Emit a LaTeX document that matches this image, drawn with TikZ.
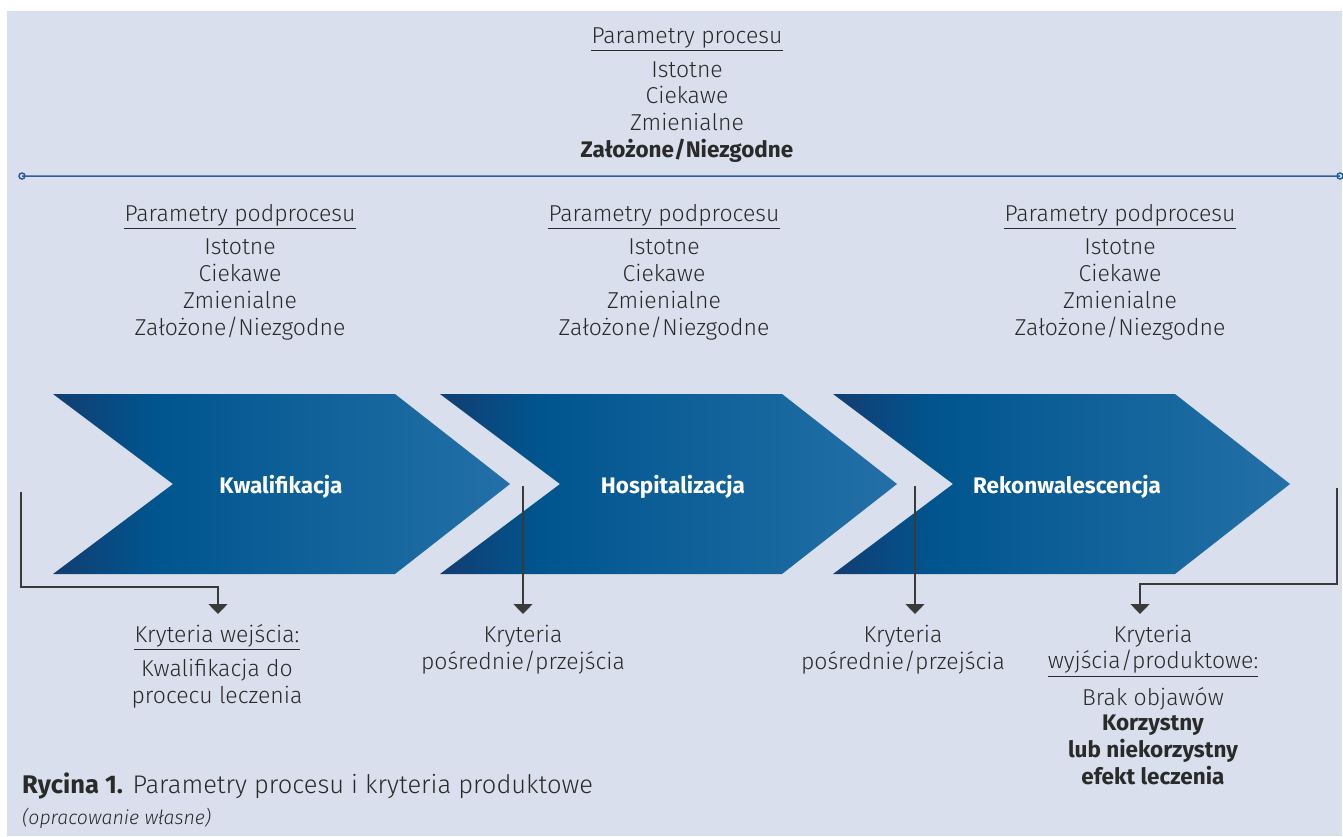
\documentclass[tikz,border=0pt]{standalone}
\usepackage{fontspec}
\setmainfont{Fira Sans Light}[BoldFont={Fira Sans Bold},ItalicFont={Fira Sans Light Italic}]
\usetikzlibrary{arrows.meta}

\definecolor{bgcol}{HTML}{D9DFEC}
\definecolor{txtcol}{HTML}{2A2A2A}
\definecolor{linecol}{HTML}{2D5F96}
\definecolor{conncol}{HTML}{3A3A3A}
\definecolor{chevA}{HTML}{123D71}
\definecolor{chevB}{HTML}{00558F}
\definecolor{chevC}{HTML}{2370A7}
\pgfdeclarehorizontalshading{chevshade}{100bp}{color(0bp)=(chevA); color(25bp)=(chevA); color(36bp)=(chevB); color(75bp)=(chevC); color(100bp)=(chevC)}

\tikzset{
  txt/.style={font=\fontsize{23}{26.7}\selectfont, text=txtcol, align=center, inner sep=0pt, anchor=base},
  txtb/.style={txt, font=\fontsize{22.5}{26.7}\selectfont\bfseries},
  chevlabel/.style={txt, text=white, font=\fontsize{22.5}{26.7}\selectfont\bfseries},
  uline/.style={draw=txtcol, line width=1.1pt},
  conn/.style={draw=conncol, line width=1.3pt, -{Triangle[width=19pt,length=10pt]}},
  chev/.style={shading=chevshade}
}

\begin{document}
\begin{tikzpicture}[x=1pt,y=-1pt]
\useasboundingbox (0,0) rectangle (1343,836);
\fill[bgcol] (7,11) rectangle (1342,836);

% process (base = last line)
\node[txt] (proc) at (687,43) {Parametry procesu};
\draw[uline] ([yshift=-3pt]proc.south west) -- ([yshift=-3pt]proc.south east);
\node[txt] (procl) at (687,130.4) {Istotne\\Ciekawe\\Zmienialne};
\node[txtb] (procb) at (687,157) {Założone/Niezgodne};
\draw[linecol, line width=1.5pt, fill=bgcol] (22,176) circle(3) -- (1340,176) circle(3);

% subprocesses
\node[txt] (sub1) at (240,221) {Parametry podprocesu};
\node[txt] (sub1l) at (240,335) {Istotne\\Ciekawe\\Zmienialne\\Założone/Niezgodne};
\node[txt] (sub2) at (664,221) {Parametry podprocesu};
\node[txt] (sub2l) at (664,335) {Istotne\\Ciekawe\\Zmienialne\\Założone/Niezgodne};
\node[txt] (sub3) at (1120,221) {Parametry podprocesu};
\node[txt] (sub3l) at (1120,335) {Istotne\\Ciekawe\\Zmienialne\\Założone/Niezgodne};
\draw[uline] ([yshift=-3pt]sub1.south west) -- ([yshift=-3pt]sub1.south east);
\draw[uline] ([yshift=-3pt]sub2.south west) -- ([yshift=-3pt]sub2.south east);
\draw[uline] ([yshift=-3pt]sub3.south west) -- ([yshift=-3pt]sub3.south east);

% chevrons
\path[chev] (53,394) -- (395,394) -- (510,484) -- (395,574) -- (53,574) -- (173,484) -- cycle;
\path[chev] (440,394) -- (782,394) -- (897,484) -- (782,574) -- (440,574) -- (560,484) -- cycle;
\path[chev] (833,394) -- (1175,394) -- (1290,484) -- (1175,574) -- (833,574) -- (953,484) -- cycle;
\node[chevlabel] (kwal) at (281,493) {Kwalifikacja};
\node[chevlabel] (hosp) at (673,493) {Hospitalizacja};
\node[chevlabel] (reko) at (1067,493) {Rekonwalescencja};

% criteria
\node[txt] (kr1) at (217,642) {Kryteria wejścia:};
\draw[uline] ([yshift=-3pt]kr1.south west) -- ([yshift=-3pt]kr1.south east);
\node[txt] (kr1l) at (217,703) {Kwalifikacja do\\procecu leczenia};
\node[txt] (kr2) at (523,669) {Kryteria\\pośrednie/przejścia};
\node[txt] (kr3) at (903,669) {Kryteria\\pośrednie/przejścia};
\node[txt] (kr4) at (1153,642) {Kryteria};
\node[txt] (kr4a) at (1153,668) {wyjścia/produktowe:};
\draw[uline] ([yshift=-4pt]kr4a.south west) -- ([yshift=-4pt]kr4a.south east);
\node[txt] (kr4l) at (1153,705) {Brak objawów};
\node[txtb] (kr4b) at (1153,784) {Korzystny\\lub niekorzystny\\efekt leczenia};

% connectors
\coordinate (s1) at (21,492);
\coordinate (k1) at (21,587);
\coordinate (e1) at (218,614);
\coordinate (s2) at (523,486);
\coordinate (e2) at (523,614);
\coordinate (s3) at (915,486);
\coordinate (e3) at (915,614);
\coordinate (s4) at (1337,488);
\coordinate (k4) at (1337,584);
\coordinate (e4) at (1140,614);
\draw[conn] (s1) -- (k1) -| (e1);
\draw[conn] (s2) -- (e2);
\draw[conn] (s3) -- (e3);
\draw[conn] (s4) -- (k4) -| (e4);

% caption
\node[txt, anchor=base west, font=\fontsize{25.5}{28}\selectfont] (cap) at (22,793) {\textbf{Rycina 1.} Parametry procesu i kryteria produktowe};
\node[txt, anchor=base west, font=\fontsize{19.5}{22}\selectfont\itshape] (capsrc) at (22,824) {(opracowanie własne)};
\end{tikzpicture}
\end{document}
